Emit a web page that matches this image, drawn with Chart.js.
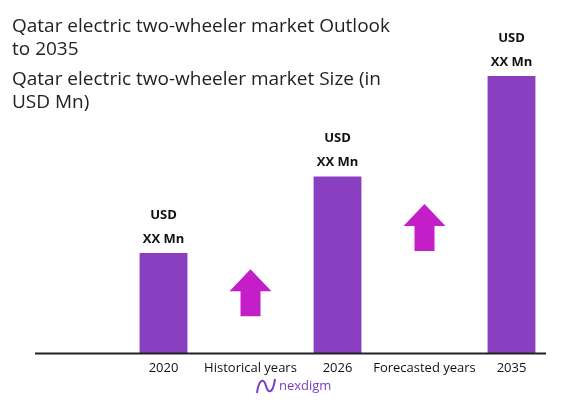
<!DOCTYPE html>
<html>
<head>
<meta charset="utf-8">
<script src="https://cdn.jsdelivr.net/npm/chart.js@4"></script>
<style>
  html, body { margin: 0; padding: 0; background: #fff; }
  #wrap { width: 580px; height: 402px; position: relative; }
</style>
</head>
<body>
<div id="wrap"><canvas id="chart" width="580" height="402"></canvas></div>
<script>
// DATA
const categories = ['2020', 'Historical years', '2026', 'Forecasted years', '2035'];
const marketSize = [100, null, 176, null, 276];
const barLabels = ['USD', 'XX Mn'];
const arrowAt = ['Historical years', 'Forecasted years'];
const arrowBase = [37, 102];   // arrow bottom, in axis units
const titleLines = ['Qatar electric two-wheeler market Outlook', 'to 2035',
                    'Qatar electric two-wheeler market Size (in', 'USD Mn)'];

const FONT = '"Open Sans", sans-serif';

// draws titles, baseline, labels over bars, arrows and logo
const extras = {
    id: 'extras',
    afterDraw(c) {
        let ctx = c.ctx;
        let x = c.scales.x, y = c.scales.y;
        ctx.save();

        ctx.fillStyle = '#222';
        ctx.font = '19px ' + FONT;
        ctx.textBaseline = 'middle';
        ctx.textAlign = 'left';
        let ys = [27, 50, 80, 103];
        titleLines.forEach((t, i) => ctx.fillText(t, 12, ys[i]));

        // baseline
        ctx.strokeStyle = '#222';
        ctx.lineWidth = 2;
        ctx.beginPath();
        ctx.moveTo(35, y.getPixelForValue(0));
        ctx.lineTo(546, y.getPixelForValue(0));
        ctx.stroke();

        // labels over bars
        ctx.fillStyle = '#111';
        ctx.font = 'bold 13px ' + FONT;
        ctx.textAlign = 'center';
        c.getDatasetMeta(0).data.forEach((bar, i) => {
            if (marketSize[i] == null) return;
            ctx.fillText(barLabels[0], bar.x, bar.y - 38);
            ctx.fillText(barLabels[1], bar.x, bar.y - 14);
        });

        // arrows
        ctx.fillStyle = '#c41ec9';
        arrowAt.forEach((cat, i) => {
            let cx = x.getPixelForValue(categories.indexOf(cat));
            let b = y.getPixelForValue(arrowBase[i]);
            let h = 47;
            ctx.beginPath();
            ctx.moveTo(cx, b - h);
            ctx.lineTo(cx + 21, b - h + 22);
            ctx.lineTo(cx + 10, b - h + 22);
            ctx.lineTo(cx + 10, b);
            ctx.lineTo(cx - 10, b);
            ctx.lineTo(cx - 10, b - h + 22);
            ctx.lineTo(cx - 21, b - h + 22);
            ctx.closePath();
            ctx.fill();
        });

        // logo
        ctx.strokeStyle = '#7b3fc4';
        ctx.lineWidth = 2;
        ctx.beginPath();
        ctx.moveTo(257, 393);
        ctx.bezierCurveTo(259, 378, 264, 378, 266, 386);
        ctx.bezierCurveTo(268, 394, 273, 394, 275, 379);
        ctx.stroke();
        ctx.fillStyle = '#7b3fc4';
        ctx.font = '13px ' + FONT;
        ctx.textAlign = 'left';
        ctx.fillText('nexdigm', 279, 386);

        ctx.restore();
    }
};

new Chart(document.getElementById('chart'), {
    type: 'bar',
    data: {
        labels: categories,
        datasets: [{
            data: marketSize,
            backgroundColor: '#8a3fc0',
            barPercentage: 0.55,
            categoryPercentage: 1
        }]
    },
    options: {
        responsive: false,
        animation: false,
        layout: { padding: { left: 120, right: 25, top: 52, bottom: 19 } },
        plugins: { legend: { display: false }, tooltip: { enabled: false } },
        scales: {
            x: {
                grid: { display: false, drawTicks: false },
                border: { display: false },
                ticks: { color: '#111', font: { size: 13, family: FONT }, padding: 7,
                         maxRotation: 0, minRotation: 0, autoSkip: false }
            },
            y: {
                display: false,
                min: 0,
                max: 300
            }
        }
    },
    plugins: [extras]
});
</script>
</body>
</html>
